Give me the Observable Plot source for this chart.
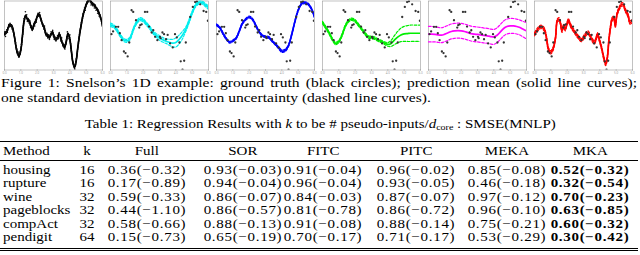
<!DOCTYPE html>
<html><head><meta charset="utf-8">
<script src="https://cdn.jsdelivr.net/npm/d3@7"></script>
<script src="https://cdn.jsdelivr.net/npm/@observablehq/plot@0.6"></script>
<style>
body{margin:0;background:#fff;}
#page{position:relative;width:640px;height:255px;overflow:hidden;font-family:"Liberation Serif",serif;color:#000;}
#panels{position:absolute;left:0;top:0;display:flex;}
#panels svg{display:block;}
.cap{position:absolute;left:1px;font-size:13.5px;line-height:15px;transform-origin:0 50%;transform:scaleX(1.15);}
#cap1{top:75px;width:553px;text-align:justify;text-align-last:justify;}
#cap2{top:90px;white-space:nowrap;}
#tcap{position:absolute;left:0;width:640px;top:116px;text-align:center;font-size:13.5px;line-height:15px;white-space:nowrap;}
#tcap span.w{display:inline-block;transform:scaleX(1.11);}
#tcap sub{font-size:9px;vertical-align:-2px;line-height:0;}
table{position:absolute;left:0;top:141px;width:638px;table-layout:fixed;border-collapse:collapse;font-size:12.2px;}
th,td{padding:0;text-align:center;font-weight:normal;white-space:nowrap;}
th{height:18px;line-height:18px;}
thead tr{border-top:1.5px solid #000;border-bottom:0.8px solid #000;}
td{height:13.5px;line-height:13.5px;}
th span,td span{display:inline-block;transform:scaleX(1.23);}
th:first-child span,td:first-child span{transform-origin:0 50%;}
td.v span{letter-spacing:0.57px;}
td.b{font-weight:bold;}
th:first-child,td:first-child{text-align:left;padding-left:3px;}
tbody tr:first-child td{padding-top:2.5px;}
tbody tr:last-child td{padding-bottom:3px;}
tbody tr:last-child{border-bottom:3px double #000;}
</style></head>
<body><div id="page">
<div id="panels"></div>
<div class="cap" id="cap1">Figure 1: Snelson’s 1D example: ground truth (black circles); prediction mean (solid line curves);</div>
<div class="cap" id="cap2">one standard deviation in prediction uncertainty (dashed line curves).</div>
<div id="tcap"><span class="w">Table 1: Regression Results with <i>k</i> to be # pseudo-inputs/<i>d</i><sub>core</sub> : SMSE(MNLP)</span></div>
<table id="tbl"></table>
</div>
<script>
// ---------- Figure data ----------
const gridX = [0,0.2,0.4,0.6,0.8,1.0,1.2,1.4,1.6,1.8,2.0,2.2,2.4,2.6,2.8,3.0,3.2,3.4,3.6,3.8,4.0,4.2,4.4,4.6,4.8,5.0,5.2,5.4,5.6,5.8,6.0];

// subset of observations shown in panels 2-6
const obsX = [0.06,0.16,0.33,0.47,0.57,0.68,0.82,0.92,1.05,1.15,1.29,1.39,1.56,1.76,1.82,1.91,2.11,2.25,2.36,2.52,2.62,2.73,2.87,3.03,3.07,3.18,3.28,3.40,3.50,3.65,3.81,3.95,4.06,4.22,4.30,4.51,4.61,4.41,4.88,5.04,5.18,5.29,5.49,5.70,5.86,5.96,6.0];
const obsY = [-0.60,-0.42,-0.11,-0.11,-0.54,-1.0,-1.76,-1.87,-2.09,-1.16,1.0,0.89,0.33,-0.16,0.0,0.06,0.89,0.89,-0.09,-0.49,-0.34,-0.78,-1.0,-0.78,-0.87,-0.49,-0.60,-0.94,-0.65,-1.22,-1.49,-0.60,-0.82,-1.16,-2.42,-2.38,-1.16,-2.98,0.55,1.22,1.55,1.60,1.40,0.95,0.89,0.29,0.33];

// full dataset (panel 1)
const denseX = [0.02,0.06,0.10,0.14,0.18,0.22,0.26,0.30,0.34,0.38,0.42,0.46,0.50,0.55,0.60,0.64,0.68,0.72,0.76,0.80,0.84,0.88,0.92,0.96,1.00,1.04,1.08,1.12,1.16,1.20,1.24,1.28,1.32,1.36,1.40,1.45,1.50,1.55,1.60,1.65,1.70,1.75,1.80,1.85,1.90,1.95,2.00,2.05,2.10,2.15,2.20,2.25,2.30,2.35,2.40,2.45,2.50,2.55,2.60,2.65,2.70,2.75,2.80,2.85,2.90,2.95,3.00,3.05,3.10,3.15,3.20,3.25,3.30,3.35,3.40,3.45,3.50,3.55,3.60,3.65,3.70,3.75,3.80,3.85,3.90,3.95,4.00,4.05,4.10,4.15,4.20,4.25,4.30,4.35,4.40,4.45,4.50,4.55,4.60,4.65,4.70,4.75,4.80,4.85,4.90,4.95,5.00,5.05,5.10,5.15,5.25,5.30,5.35,5.40,5.45,5.50,5.55,5.60,5.65,5.70,5.75,5.80,5.85,5.90,5.95,5.98];
const denseY = [-0.45,-0.75,-0.55,-0.30,-0.48,-0.15,0.05,-0.10,0.12,-0.08,0.00,-0.25,-0.15,-0.45,-0.70,-0.95,-1.15,-1.45,-1.60,-1.95,-1.80,-2.15,-1.95,-1.85,-1.55,-1.30,-0.95,-0.60,-0.20,0.45,0.60,0.90,0.50,0.70,0.25,0.45,0.15,0.30,-0.15,-0.05,-0.35,-0.15,0.10,-0.05,0.35,0.20,0.55,0.80,0.60,0.85,0.55,0.30,0.15,-0.05,-0.25,-0.05,-0.45,-0.70,-0.55,-0.85,-0.65,-0.95,-0.70,-0.45,-0.65,-0.35,-0.75,-0.95,-0.80,-1.05,-0.85,-0.70,-0.90,-0.50,-0.75,-1.05,-0.85,-1.20,-1.40,-1.30,-1.60,-1.25,-0.95,-0.45,-0.70,-0.90,-0.65,-1.25,-1.75,-2.10,-2.55,-2.70,-2.95,-2.55,-2.25,-1.85,-1.35,-0.95,-0.50,-0.25,0.15,0.35,0.75,0.85,1.15,1.00,1.30,1.50,1.55,1.60,1.55,1.35,1.50,1.30,1.45,1.15,1.35,1.00,1.10,0.80,1.00,0.60,0.70,0.40,0.10,0.35];

// Full GP
const fullX = [0,0.16,0.27,0.37,0.47,0.58,0.68,0.78,0.89,0.99,1.09,1.20,1.30,1.40,1.51,1.61,1.71,1.81,1.92,2.02,2.12,2.23,2.33,2.43,2.54,2.64,2.74,2.85,2.95,3.05,3.15,3.26,3.36,3.46,3.57,3.67,3.77,3.88,3.98,4.08,4.19,4.29,4.39,4.49,4.60,4.70,4.80,4.91,5.01,5.11,5.22,5.32,5.53,5.73,5.94,6.0];
const fullY = [-0.60,-0.38,-0.05,0.02,-0.11,-0.60,-1.27,-1.82,-2.05,-1.71,-0.82,0.29,0.62,0.40,0.29,-0.05,-0.27,0.06,0.29,0.62,0.73,0.40,0.06,-0.16,-0.60,-0.71,-0.82,-0.60,-0.49,-0.82,-0.94,-0.82,-0.60,-0.94,-1.27,-1.49,-1.16,-0.60,-0.82,-1.60,-2.49,-2.82,-2.38,-1.49,-0.60,0.06,0.62,1.06,1.40,1.62,1.73,1.51,1.29,0.95,0.29,-0.05];
const fullStd = 0.07;

// SOR
const sorY = [0.02,-0.07,-0.34,-0.69,-0.98,-1.05,-0.87,-0.27,0.18,0.40,0.33,0.09,-0.16,-0.47,-0.69,-0.85,-0.98,-1.07,-1.14,-1.20,-1.16,-0.96,-0.67,-0.29,0.24,0.84,1.31,1.51,1.53,1.35,1.18];
const sorStd = [0.12,0.1,0.1,0.1,0.1,0.1,0.1,0.1,0.1,0.1,0.1,0.1,0.1,0.1,0.12,0.15,0.15,0.15,0.2,0.25,0.3,0.3,0.25,0.15,0.12,0.1,0.1,0.1,0.1,0.1,0.12];

// FITC
const fitcY = [0.02,-0.16,-0.56,-0.91,-1.14,-1.05,-0.87,-0.38,0.15,0.40,0.55,0.40,0.00,-0.42,-0.69,-0.78,-0.82,-1.05,-1.27,-1.51,-1.74,-1.69,-1.38,-0.65,0.24,1.0,1.42,1.51,1.42,1.13,0.55];
const fitcStd = [0.06,0.06,0.06,0.06,0.06,0.06,0.06,0.06,0.06,0.06,0.06,0.06,0.06,0.06,0.06,0.06,0.06,0.06,0.06,0.07,0.08,0.08,0.07,0.06,0.06,0.06,0.06,0.06,0.06,0.06,0.07];

// PITC
const pitcY = [0.18,-0.16,-0.51,-0.94,-1.22,-1.09,-0.65,-0.05,0.29,0.40,0.29,0.02,-0.25,-0.56,-0.78,-0.82,-0.87,-1.0,-1.09,-1.20,-1.29,-1.22,-1.0,-0.80,-0.65,-0.58,-0.56,-0.54,-0.54,-0.54,-0.54];
const pitcStd = [0.08,0.08,0.08,0.08,0.08,0.08,0.08,0.08,0.08,0.08,0.08,0.08,0.08,0.08,0.08,0.08,0.08,0.08,0.08,0.09,0.12,0.2,0.3,0.38,0.45,0.5,0.53,0.55,0.55,0.55,0.55];

// MEKA
const mekaY = [-0.60,-0.60,-0.62,-0.65,-0.67,-0.60,-0.51,-0.42,-0.38,-0.36,-0.38,-0.42,-0.49,-0.56,-0.60,-0.62,-0.65,-0.69,-0.71,-0.76,-0.78,-0.67,-0.45,-0.22,-0.09,-0.05,-0.05,-0.09,-0.16,-0.27,-0.38];
const mekaStd = [0.52,0.52,0.5,0.5,0.5,0.5,0.5,0.5,0.5,0.5,0.5,0.5,0.5,0.5,0.5,0.5,0.5,0.5,0.5,0.5,0.5,0.5,0.5,0.5,0.5,0.5,0.5,0.5,0.5,0.52,0.55];

// MKA
const mkaX = [0,0.20,0.40,0.59,0.73,0.85,0.99,1.13,1.29,1.39,1.49,1.58,1.68,1.78,1.88,1.98,2.08,2.18,2.28,2.48,2.67,2.87,3.07,3.27,3.47,3.66,3.76,3.86,3.96,4.10,4.26,4.36,4.46,4.55,4.65,4.75,4.85,4.95,5.05,5.21,5.35,5.45,5.54,5.64,5.74,5.84,6.0];
const mkaY = [-0.60,-0.27,-0.11,-0.27,-0.82,-1.60,-1.82,-1.60,-0.82,0.29,0.40,0.18,-0.38,-0.05,-0.27,0.06,0.33,0.06,-0.16,-0.49,-0.78,-1.0,-0.71,-0.49,-0.87,-1.16,-0.94,-0.60,-0.94,-1.49,-2.27,-2.60,-2.16,-1.05,-0.16,0.40,0.51,-0.05,0.73,1.18,1.40,1.35,1.06,0.84,0.62,0.18,0.29];
const mkaStd = 0.11;

// ---------- Table data ----------
const methods = ["housing","rupture","wine","pageblocks","compAct","pendigit"];
const kValues = [16,16,32,32,32,64];
const columnNames = ["Full","SOR","FITC","PITC","MEKA","MKA"];
const fullSMSE = [0.36,0.17,0.59,0.44,0.58,0.15];
const fullMNLP = [-0.32,-0.89,-0.33,-1.10,-0.66,-0.73];
const sorSMSE = [0.93,0.94,0.86,0.86,0.88,0.65];
const sorMNLP = [-0.03,-0.04,-0.07,-0.57,-0.13,-0.19];
const fitcSMSE = [0.91,0.96,0.84,0.81,0.91,0.70];
const fitcMNLP = [-0.04,-0.04,-0.03,-0.78,-0.08,-0.17];
const pitcSMSE = [0.96,0.93,0.87,0.86,0.88,0.71];
const pitcMNLP = [-0.02,-0.05,-0.07,-0.72,-0.14,-0.17];
const mekaSMSE = [0.85,0.46,0.97,0.96,0.75,0.53];
const mekaMNLP = [-0.08,-0.18,-0.12,-0.10,-0.21,-0.29];
const mkaSMSE = [0.52,0.32,0.70,0.63,0.60,0.30];
const mkaMNLP = [-0.32,-0.54,-0.23,-0.85,-0.32,-0.42];

// ---------- Panels ----------
function rowsOf(xs, ys, std) {
  return xs.map((x, i) => {
    const s = Array.isArray(std) ? std[i] : std;
    return {x, y: ys[i], lo: ys[i] - s, hi: ys[i] + s};
  });
}
const obs = obsX.map((x, i) => ({x, y: obsY[i]}));
const dense = denseX.map((x, i) => ({x, y: denseY[i]}));

function panel(rows, color, pts, r, ptFill) {
  return Plot.plot({
    width: 106, height: 74,
    marginLeft: 4, marginRight: 4, marginTop: 0.5, marginBottom: 4.5,
    style: {color: "#a0a0a0", fontSize: "3px", background: "white", overflow: "visible"},
    x: {domain: [0, 6], ticks: [0,1,2,3,4,5,6], tickSize: 1, tickPadding: 0.5, label: null},
    y: {domain: [-3, 1.62], ticks: [-2.5,-2,-1.5,-1,-0.5,0,0.5,1,1.5], tickSize: 0, tickPadding: 0.3, label: null, tickFormat: d => ""},
    marks: [
      Plot.frame({stroke: "#9a9a9a", strokeWidth: 0.6}),
      Plot.line(rows, {x: "x", y: "hi", stroke: color, strokeWidth: 1.2, strokeDasharray: "2.6,1.6", curve: "catmull-rom", clip: true}),
      Plot.line(rows, {x: "x", y: "lo", stroke: color, strokeWidth: 1.2, strokeDasharray: "2.6,1.6", curve: "catmull-rom", clip: true}),
      Plot.line(rows, {x: "x", y: "y", stroke: color, strokeWidth: 1.7, curve: "catmull-rom", clip: true}),
      Plot.dot(pts, {x: "x", y: "y", r, fill: ptFill, stroke: "none", clip: true})
    ]
  });
}

const host = document.getElementById("panels");
host.append(
  panel(rowsOf(fullX, fullY, fullStd), "#000", dense, 0.8, "#111"),
  panel(rowsOf(gridX, sorY, sorStd), "#00eeee", obs, 1.15, "#333"),
  panel(rowsOf(gridX, fitcY, fitcStd), "#0000ff", obs, 1.15, "#333"),
  panel(rowsOf(gridX, pitcY, pitcStd), "#00ee00", obs, 1.15, "#333"),
  panel(rowsOf(gridX, mekaY, mekaStd), "#ff00ff", obs, 1.15, "#333"),
  panel(rowsOf(mkaX, mkaY, mkaStd), "#ff0000", obs, 1.15, "#333")
);

// ---------- Table ----------
const fmt = (s, m) => s.toFixed(2) + "(" + (m < 0 ? "\u2212" : "") + Math.abs(m).toFixed(2) + ")";
const colSMSE = [fullSMSE, sorSMSE, fitcSMSE, pitcSMSE, mekaSMSE, mkaSMSE];
const colMNLP = [fullMNLP, sorMNLP, fitcMNLP, pitcMNLP, mekaMNLP, mkaMNLP];
const widths = [80, 14, 106, 86, 74, 112, 70, 96];
const tbl = document.getElementById("tbl");
let html = "<colgroup>" + widths.map(w => `<col style="width:${w}px">`).join("") + "</colgroup>";
html += "<thead><tr><th><span>Method</span></th><th><span>k</span></th>" + columnNames.map(c => `<th><span>${c}</span></th>`).join("") + "</tr></thead><tbody>";
methods.forEach((m, i) => {
  html += `<tr><td><span>${m}</span></td><td><span>${kValues[i]}</span></td>`;
  colSMSE.forEach((col, j) => {
    const bold = columnNames[j] === "MKA";
    html += `<td class="v${bold ? " b" : ""}"><span>${fmt(col[i], colMNLP[j][i])}</span></td>`;
  });
  html += "</tr>";
});
html += "</tbody>";
tbl.innerHTML = html;
</script>
</body></html>
